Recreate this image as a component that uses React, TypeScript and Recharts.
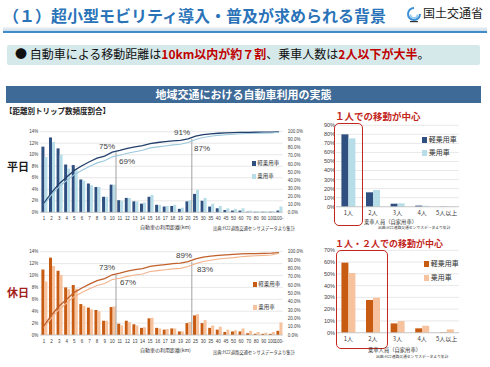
import React from 'react'
import {
  ComposedChart,
  BarChart,
  Bar,
  Line,
  XAxis,
  YAxis,
  CartesianGrid,
  ReferenceLine,
} from 'recharts'

// distance categories (km)
const distanceLabels = [
  '1', '2', '3', '4', '5', '6', '7', '8', '9', '10',
  '11', '12', '13', '14', '15', '16', '17', '18', '19', '20',
  '25', '30', '35', '40', '45', '50', '60', '70', '80', '90', '100', '100-',
]

// 平日 share of trips (%)
const weekdayKei = [
  11.4, 13.0, 11.1, 8.3, 8.2, 5.7, 5.0, 4.4, 2.7, 4.8,
  2.1, 2.5, 1.9, 1.5, 2.7, 1.3, 1.0, 1.1, 0.6, 1.9,
  3.2, 2.0, 1.0, 0.7, 0.4, 0.3, 0.3, 0.1, 0.1, 0.1, 0.1, 0.3,
]
const weekdayJoyo = [
  9.6, 12.2, 10.0, 7.6, 7.3, 5.5, 4.7, 4.4, 2.7, 4.8,
  2.0, 2.5, 1.9, 1.7, 3.0, 1.3, 1.1, 1.3, 0.8, 2.1,
  3.9, 2.5, 1.5, 1.1, 0.7, 0.6, 0.7, 0.3, 0.2, 0.2, 0.2, 1.0,
]
// 平日 cumulative share (%)
const weekdayKeiCum = [
  11.4, 24.4, 35.5, 43.8, 52.0, 57.7, 62.7, 67.1, 69.8, 74.6,
  76.7, 79.2, 81.1, 82.6, 85.3, 86.6, 87.6, 88.7, 89.3, 91.2,
  94.4, 96.4, 97.4, 98.1, 98.5, 98.8, 99.1, 99.2, 99.3, 99.4, 99.5, 99.8,
]
const weekdayJoyoCum = [
  9.6, 21.8, 31.8, 39.4, 46.7, 52.2, 56.9, 61.3, 64.0, 68.8,
  70.8, 73.3, 75.2, 76.9, 79.9, 81.2, 82.3, 83.6, 84.4, 86.5,
  90.4, 92.9, 94.4, 95.5, 96.2, 96.8, 97.5, 97.8, 98.0, 98.2, 98.4, 99.4,
]

// 休日 share of trips (%)
const holidayKei = [
  11.0, 13.0, 10.8, 8.0, 8.4, 5.2, 4.6, 4.2, 2.4, 4.7,
  1.9, 2.4, 1.8, 1.2, 2.8, 1.2, 0.9, 1.1, 0.6, 2.0,
  3.3, 2.0, 1.2, 0.9, 0.5, 0.6, 0.6, 0.3, 0.2, 0.2, 0.2, 0.7,
]
const holidayJoyo = [
  9.0, 11.6, 10.1, 7.7, 7.8, 4.9, 4.3, 4.0, 2.4, 4.8,
  1.6, 2.2, 1.6, 1.3, 2.9, 1.1, 1.0, 1.1, 0.6, 2.2,
  3.5, 2.5, 1.6, 1.4, 0.9, 0.8, 1.1, 0.7, 0.5, 0.4, 0.5, 2.1,
]
const holidayKeiCum = [
  11.0, 24.0, 34.8, 42.8, 51.2, 56.4, 61.0, 65.2, 67.6, 72.3,
  74.2, 76.6, 78.4, 79.6, 82.4, 83.6, 84.5, 85.6, 86.2, 88.2,
  91.5, 93.5, 94.7, 95.6, 96.1, 96.7, 97.3, 97.6, 97.8, 98.0, 98.2, 98.9,
]
const holidayJoyoCum = [
  9.0, 20.6, 30.7, 38.4, 46.2, 51.1, 55.4, 59.4, 61.8, 66.6,
  68.2, 70.4, 72.0, 73.3, 76.2, 77.3, 78.3, 79.4, 80.0, 82.2,
  85.7, 88.2, 89.8, 91.2, 92.1, 92.9, 94.0, 94.7, 95.2, 95.6, 96.1, 98.2,
]

// passengers per car
const riderLabels = ['1人', '2人', '3人', '4人', '5人以上']
const ridersWeekdayKei = [80.0, 15.9, 3.3, 1.2, 0.2]
const ridersWeekdayJoyo = [75.6, 18.4, 3.7, 1.0, 0.3]
const ridersHolidayKei = [59.5, 27.8, 7.9, 3.7, 0.3]
const ridersHolidayJoyo = [50.7, 29.7, 9.9, 5.9, 2.8]

const shareTicks = [0, 2, 4, 6, 8, 10, 12, 14]
const cumTicks = [0, 10, 20, 30, 40, 50, 60, 70, 80, 90, 100]
const weekdayRiderTicks = [0, 10, 20, 30, 40, 50, 60, 70, 80, 90]
const holidayRiderTicks = [0, 10, 20, 30, 40, 50, 60, 70]

const SOURCE = '出典:H22道路交通センサスデータより集計'
const LATIN = "'Liberation Sans', Arial, sans-serif"

const blue = { dark: '#2e4f7f', light: '#b7dde8', darkLine: '#233f6b', lightLine: '#9cc8dc' }
const orange = { dark: '#c75b12', light: '#f6c39e', darkLine: '#c0602a', lightLine: '#f2b38c' }

function buildDistance(kei: number[], joyo: number[], keiCum: number[], joyoCum: number[]) {
  return distanceLabels.map((name, i) => ({
    name,
    kei: kei[i],
    joyo: joyo[i],
    keiCum: keiCum[i],
    joyoCum: joyoCum[i],
  }))
}

function buildRiders(kei: number[], joyo: number[]) {
  return riderLabels.map((name, i) => ({ name, kei: kei[i], joyo: joyo[i] }))
}

const tickStyle = { fontSize: 4.5, fill: '#404040', fontFamily: LATIN }

function DistanceChart({ data, top, height, colors, cut10, cut20 }: any) {
  return (
    <div style={{ position: 'absolute', left: 0, top }}>
      <ComposedChart
        width={310}
        height={height}
        data={data}
        margin={{ top: 6.7, right: 0, bottom: 0, left: 0 }}
        barCategoryGap="16%"
        barGap={0}
      >
        <CartesianGrid yAxisId="pct" vertical={false} stroke="#d9d9d9" strokeWidth={0.6} />
        <XAxis
          dataKey="name"
          interval={0}
          height={10}
          tickLine={false}
          tickSize={3}
          tickMargin={2}
          axisLine={{ stroke: '#bfbfbf', strokeWidth: 0.7 }}
          tick={tickStyle}
        />
        <YAxis
          yAxisId="pct"
          domain={[0, 14]}
          ticks={shareTicks}
          interval={0}
          width={40.2}
          tickLine={false}
          axisLine={false}
          tickSize={2}
          tickMargin={0}
          tickFormatter={(v) => `${v}%`}
          tick={tickStyle}
        />
        <YAxis
          yAxisId="cum"
          orientation="right"
          domain={[0, 100]}
          ticks={cumTicks}
          interval={0}
          width={27.2}
          tickLine={false}
          axisLine={false}
          tickSize={3}
          tickMargin={2}
          tickFormatter={(v) => `${v.toFixed(1)}%`}
          tick={tickStyle}
        />
        <Bar yAxisId="pct" dataKey="kei" fill={colors.dark} isAnimationActive={false} />
        <Bar yAxisId="pct" dataKey="joyo" fill={colors.light} isAnimationActive={false} />
        <ReferenceLine
          yAxisId="cum"
          segment={[{ x: '10', y: 0 }, { x: '10', y: cut10 }]}
          position="end"
          stroke="#8c8c8c"
          strokeWidth={0.8}
        />
        <ReferenceLine
          yAxisId="cum"
          segment={[{ x: '20', y: 0 }, { x: '20', y: cut20 }]}
          position="end"
          stroke="#8c8c8c"
          strokeWidth={0.8}
        />
        <Line
          yAxisId="cum"
          dataKey="keiCum"
          stroke={colors.darkLine}
          strokeWidth={1.3}
          dot={false}
          isAnimationActive={false}
        />
        <Line
          yAxisId="cum"
          dataKey="joyoCum"
          stroke={colors.lightLine}
          strokeWidth={1.1}
          dot={false}
          isAnimationActive={false}
        />
      </ComposedChart>
    </div>
  )
}

function RidersChart({ data, top, height, max, ticks, colors }: any) {
  return (
    <div style={{ position: 'absolute', left: 300, top }}>
      <BarChart
        width={165}
        height={height}
        data={data}
        margin={{ top: 7.3, right: 6, bottom: 0, left: 0 }}
        barCategoryGap="22%"
        barGap={0}
      >
        <CartesianGrid vertical={false} stroke="#d9d9d9" strokeWidth={0.6} />
        <XAxis
          dataKey="name"
          interval={0}
          height={12}
          tickLine={false}
          tickSize={2}
          tickMargin={2}
          axisLine={{ stroke: '#bfbfbf', strokeWidth: 0.7 }}
          tick={{ fontSize: 6, fill: '#404040' }}
        />
        <YAxis
          domain={[0, max]}
          ticks={ticks}
          interval={0}
          width={36}
          tickLine={false}
          axisLine={false}
          tickSize={0}
          tickMargin={1}
          tickFormatter={(v) => `${v}%`}
          tick={{ fontSize: 5.5, fill: '#404040', fontFamily: LATIN }}
        />
        <Bar dataKey="kei" fill={colors.dark} isAnimationActive={false} />
        <Bar dataKey="joyo" fill={colors.light} isAnimationActive={false} />
      </BarChart>
    </div>
  )
}

function Text({ left, top, size, color = '#404040', bold = false, family, children }: any) {
  return (
    <div
      style={{
        position: 'absolute',
        left,
        top,
        fontSize: size,
        lineHeight: 1.15,
        color,
        fontWeight: bold ? 700 : 400,
        fontFamily: family,
        whiteSpace: 'nowrap',
      }}
    >
      {children}
    </div>
  )
}

function LegendItem({ left, top, size, color, label }: any) {
  return (
    <Text left={left} top={top} size={size} color="#333">
      <span
        style={{
          display: 'inline-block',
          width: size * 0.75,
          height: size * 0.75,
          background: color,
          marginRight: size * 0.2,
          verticalAlign: 'middle',
        }}
      />
      {label}
    </Text>
  )
}

export default function App() {
  const weekday = buildDistance(weekdayKei, weekdayJoyo, weekdayKeiCum, weekdayJoyoCum)
  const holiday = buildDistance(holidayKei, holidayJoyo, holidayKeiCum, holidayJoyoCum)
  const ridersWeekday = buildRiders(ridersWeekdayKei, ridersWeekdayJoyo)
  const ridersHoliday = buildRiders(ridersHolidayKei, ridersHolidayJoyo)
  const red = '#c3261c'

  return (
    <div
      style={{
        position: 'absolute',
        left: 0,
        top: 0,
        width: 490,
        height: 367,
        overflow: 'hidden',
        background: '#fff',
        fontFamily: "'Noto Sans CJK JP', 'Noto Sans', sans-serif",
      }}
    >
      {/* title */}
      <Text left={3} top={6} size={16} color="#2a73b8" bold>
        （１）超小型モビリティ導入・普及が求められる背景
      </Text>
      <div
        style={{
          position: 'absolute',
          left: 3,
          top: 27,
          width: 484,
          height: 4,
          background: 'linear-gradient(to bottom, #f1f5f9, #c9dbe9)',
        }}
      />
      <div style={{ position: 'absolute', left: 3, top: 31, width: 484, height: 2, background: '#3f8cc8' }} />
      <svg style={{ position: 'absolute', left: 406, top: 6 }} width={16} height={17}>
        <path d="M8 2 A6 6 0 1 0 14 8" stroke="#3b8fd6" strokeWidth={2} fill="none" />
        <path d="M4.5 8.5 A3.5 3.5 0 0 0 11.5 8.5" stroke="#86c5ee" strokeWidth={1.6} fill="none" />
        <rect x={4} y={15} width={8} height={1.2} fill="#333" />
      </svg>
      <Text left={423} top={6} size={12} color="#222">
        国土交通省
      </Text>

      {/* summary box */}
      <div
        style={{
          position: 'absolute',
          left: 7,
          top: 45,
          width: 473,
          height: 20,
          background: '#d6e9ea',
          borderRadius: 2,
        }}
      />
      <Text left={15} top={47} size={12} color="#111">
        ●&nbsp;自動車による移動距離は
        <span style={{ color: '#c00000', fontWeight: 700 }}>10km以内が約７割</span>
        、乗車人数は
        <span style={{ color: '#c00000', fontWeight: 700 }}>2人以下が大半</span>。
      </Text>

      {/* section header */}
      <div
        style={{
          position: 'absolute',
          left: 6,
          top: 86,
          width: 475,
          height: 17,
          background: '#3e6a97',
          color: '#fff',
          fontSize: 11,
          fontWeight: 700,
          lineHeight: '17px',
          textAlign: 'center',
        }}
      >
        地域交通における自動車利用の実態
      </div>
      <Text left={5} top={107} size={7.5} color="#222" bold>
        【距離別トリップ数頻度割合】
      </Text>

      {/* 平日 */}
      <Text left={7} top={160} size={11} color="#1a1a1a" bold>
        平日
      </Text>
      <DistanceChart
        data={weekday}
        top={125}
        height={97.3}
        colors={blue}
        cut10={weekdayKeiCum[9]}
        cut20={weekdayKeiCum[19]}
      />
      <Text left={99} top={142} size={8} family={LATIN}>75%</Text>
      <Text left={119} top={157} size={8} family={LATIN}>69%</Text>
      <Text left={174} top={128} size={8} family={LATIN}>91%</Text>
      <Text left={194} top={144} size={8} family={LATIN}>87%</Text>
      <LegendItem left={252} top={160} size={5.5} color={blue.dark} label="軽乗用車" />
      <LegendItem left={252} top={173} size={5.5} color={blue.light} label="乗用車" />
      <Text left={140} top={224} size={5} color="#333">自動車の利用距離(km)</Text>
      <Text left={213} top={225.5} size={4.3} color="#333">{SOURCE}</Text>

      <Text left={335} top={111} size={9.5} color={red} bold>
        １人での移動が中心
      </Text>
      <RidersChart
        data={ridersWeekday}
        top={118}
        height={100.7}
        max={90}
        ticks={weekdayRiderTicks}
        colors={blue}
      />
      <div
        style={{
          position: 'absolute',
          left: 334,
          top: 123,
          width: 27,
          height: 101,
          border: `1.3px solid ${red}`,
          borderRadius: 5,
        }}
      />
      <LegendItem left={422} top={135} size={7} color={blue.dark} label="軽乗用車" />
      <LegendItem left={422} top={148} size={7} color={blue.light} label="乗用車" />
      <Text left={364} top={218.5} size={5.3} color="#333">乗車人員（自家用車）</Text>
      <Text left={378} top={226} size={3.8} color="#333">{SOURCE}</Text>

      {/* 休日 */}
      <Text left={7} top={286} size={11} color="#a3211a" bold>
        休日
      </Text>
      <DistanceChart
        data={holiday}
        top={245}
        height={100}
        colors={orange}
        cut10={holidayKeiCum[9]}
        cut20={holidayKeiCum[19]}
      />
      <Text left={99} top={263} size={8} family={LATIN}>73%</Text>
      <Text left={120} top={278} size={8} family={LATIN}>67%</Text>
      <Text left={176} top={251} size={8} family={LATIN}>89%</Text>
      <Text left={197} top={265} size={8} family={LATIN}>83%</Text>
      <LegendItem left={253} top={281} size={5.5} color={orange.dark} label="軽乗用車" />
      <LegendItem left={253} top={304} size={5.5} color={orange.light} label="乗用車" />
      <Text left={140} top={347} size={5} color="#333">自動車の利用距離(km)</Text>
      <Text left={213} top={349.5} size={4.3} color="#333">{SOURCE}</Text>

      <Text left={335} top={239} size={9} color={red} bold>
        １人・２人での移動が中心
      </Text>
      <RidersChart
        data={ridersHoliday}
        top={243}
        height={101.7}
        max={70}
        ticks={holidayRiderTicks}
        colors={orange}
      />
      <div
        style={{
          position: 'absolute',
          left: 336,
          top: 250,
          width: 50,
          height: 97,
          border: `1.3px solid ${red}`,
          borderRadius: 5,
        }}
      />
      <LegendItem left={424} top={259} size={7} color={orange.dark} label="軽乗用車" />
      <LegendItem left={424} top={273} size={7} color={orange.light} label="乗用車" />
      <Text left={368} top={346.5} size={5.3} color="#333">乗車人員（自家用車）</Text>
      <Text left={376} top={354.5} size={3.8} color="#333">{SOURCE}</Text>
    </div>
  )
}
